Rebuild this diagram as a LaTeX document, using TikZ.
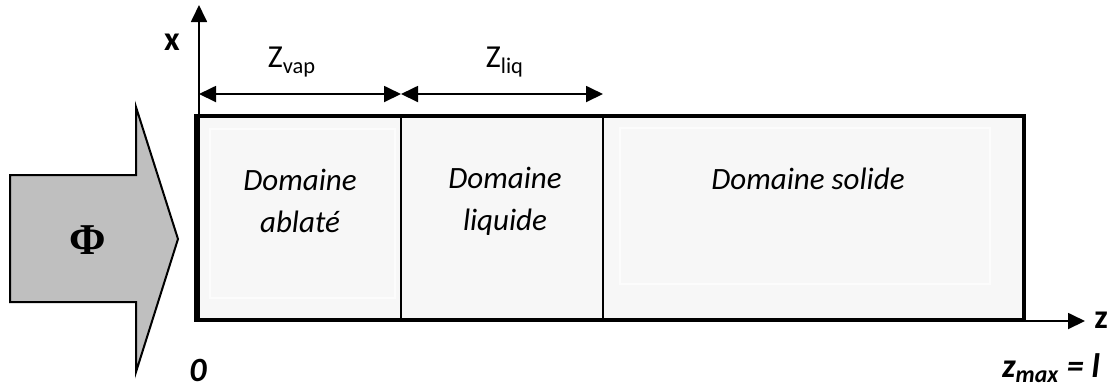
\documentclass[tikz,border=0pt]{standalone}
\usepackage{fontspec}
\setmainfont{Carlito}
\newfontfamily\phifont{Liberation Serif}
\usetikzlibrary{arrows.meta,positioning}

\tikzset{
  dom/.style={align=center, font=\fontsize{15.5}{21}\selectfont\itshape},
  lab/.style={font=\fontsize{16}{18}\selectfont},
  dim/.style={<->, line width=0.9pt},
  axe/.style={->, line width=0.9pt},
}

\begin{document}
\begin{tikzpicture}[x=0.5pt,y=-0.5pt,>={Triangle[length=8.5pt,width=8pt]}]
\useasboundingbox (0,0) rectangle (1112,388);

% domains
\fill[gray!6] (196,116) rectangle (1024,320);
\draw[white!60!gray!6, line width=1pt] (210,129) rectangle (395,298);
\draw[white!60!gray!6, line width=1pt] (620,128) rectangle (990,284);
\draw[line width=1pt] (401,116) -- (401,320);
\draw[line width=1pt] (603,116) -- (603,320);
\draw[line width=2pt] (196,116) rectangle (1024,320);

\node[dom] (abl) at (300,201) {Domaine\\ablaté};
\node[dom] (liq) at (505,201) {Domaine\\liquide};
\node[dom] (sol) at (808,179) {Domaine solide};

% flux
\draw[fill=gray!50, line width=1pt] (10,175) -- (136,175) -- (136,107) -- (178,239)
  -- (136,372) -- (136,302) -- (10,302) -- cycle;
\node[font=\fontsize{22}{24}\selectfont\phifont\bfseries] (phi) at (88,240) {Φ};

% axes
\coordinate (o) at (199,321);
\coordinate (xtop) at (199,5);
\coordinate (zend) at (1024,321);
\coordinate (ztip) at (1085,321);
\draw[axe] (o) -- (xtop);
\draw[axe] (zend) -- (ztip);
\node[font=\fontsize{17}{18}\selectfont\bfseries] (xl) at (172,42) {x};
\node[font=\fontsize{17}{18}\selectfont\bfseries] (zl) at (1101,320) {z};
\node[inner sep=1pt, font=\fontsize{17}{18}\selectfont\bfseries\itshape] (zero) at (198,370) {0};
\node[inner sep=1pt, font=\fontsize{17}{18}\selectfont\bfseries\itshape] (zmax) at (1051,368) {z\textsubscript{max} = l};

% lengths
\coordinate (d0) at (199,94);
\coordinate (d1) at (401,94);
\coordinate (d2) at (603,94);
\draw[dim] (d0) -- (d1);
\draw[dim] (d1) -- (d2);
\node[lab] (zvap) at (292,62) {Z\textsubscript{vap}};
\node[lab] (zliq) at (505,62) {Z\textsubscript{liq}};
\end{tikzpicture}
\end{document}
